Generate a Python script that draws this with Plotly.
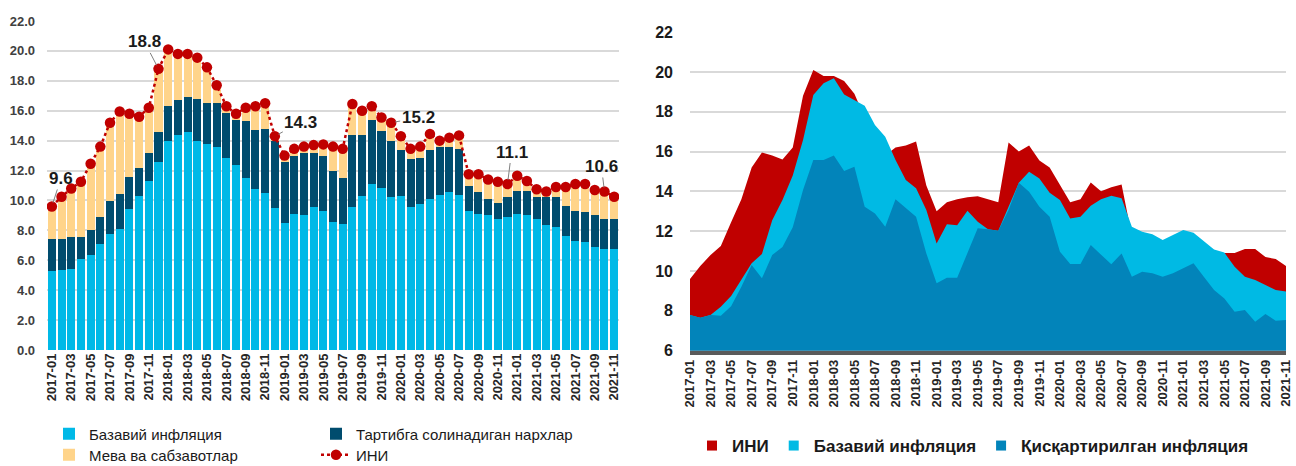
import plotly.graph_objects as go

months = [f"{y}-{m:02d}" for y in range(2017, 2022) for m in range(1, 13)][:59]
tick_months = months[::2]

# Left chart: contributions to CPI (pp)
cpi = [9.6, 10.25, 10.8, 11.25, 12.45, 13.6, 15.2, 15.95, 15.8, 15.6, 16.2, 18.8,
       20.1, 19.8, 19.8, 19.55, 18.9, 17.7, 16.3, 15.8, 16.2, 16.3, 16.5, 14.3,
       13.0, 13.45, 13.6, 13.7, 13.75, 13.6, 13.45, 16.45, 16.0, 16.3, 15.55, 15.2,
       14.3, 13.45, 13.6, 14.45, 14.0, 14.2, 14.35, 11.75, 11.75, 11.4, 11.25, 11.1,
       11.65, 11.3, 10.75, 10.6, 10.9, 10.9, 11.1, 11.1, 10.7, 10.6, 10.25]
base_contrib = [5.3, 5.35, 5.45, 6.1, 6.35, 7.1, 7.75, 8.1, 9.4, 10.3, 11.3, 12.6,
                14.0, 14.4, 14.6, 14.0, 13.75, 13.6, 12.85, 12.4, 11.5, 10.75, 10.5, 9.5,
                8.5, 9.1, 9.0, 9.55, 9.3, 8.55, 8.45, 9.55, 10.3, 11.1, 10.85, 10.2,
                10.3, 9.55, 9.75, 10.1, 10.35, 10.55, 10.35, 9.3, 9.1, 9.0, 8.75, 8.9,
                9.1, 9.0, 8.75, 8.35, 8.2, 7.65, 7.3, 7.2, 6.9, 6.75, 6.75]
regulated_contrib = [2.15, 2.1, 2.1, 1.45, 1.7, 1.8, 2.2, 2.3, 2.15, 1.9, 1.9, 1.95,
                     2.3, 2.35, 2.35, 2.8, 2.8, 2.9, 3.0, 3.0, 3.8, 3.95, 4.25, 4.45,
                     4.1, 3.9, 4.2, 3.65, 3.65, 3.45, 3.05, 4.85, 4.1, 4.3, 3.8, 3.8,
                     3.1, 3.2, 3.1, 3.3, 3.25, 3.05, 3.1, 1.65, 1.45, 1.1, 1.1, 1.3,
                     1.55, 1.65, 1.45, 1.85, 2.0, 2.0, 2.0, 2.0, 2.1, 2.0, 2.0]
fruitveg_contrib = [2.15, 2.8, 3.25, 3.7, 4.4, 4.7, 5.25, 5.55, 4.25, 3.4, 3.0, 4.25,
                    3.8, 3.05, 2.85, 2.75, 2.35, 1.2, 0.45, 0.4, 0.9, 1.6, 1.75, 0.35,
                    0.4, 0.45, 0.4, 0.5, 0.8, 1.6, 1.95, 2.05, 1.6, 0.9, 0.9, 1.2,
                    0.9, 0.7, 0.75, 1.05, 0.4, 0.6, 0.9, 0.8, 1.2, 1.3, 1.4, 0.9,
                    1.0, 0.65, 0.55, 0.4, 0.7, 1.25, 1.8, 1.9, 1.7, 1.85, 1.5]

# Right chart: inflation measures (%)
core_infl = [7.78, 7.65, 7.78, 8.2, 8.74, 9.58, 10.38, 10.85, 12.55, 13.56, 14.8, 16.58,
             18.84, 19.43, 19.68, 18.87, 18.59, 18.3, 17.33, 16.74, 15.57, 14.57, 14.15, 13.06,
             11.38, 12.34, 12.29, 13.03, 12.47, 12.1, 12.02, 13.2, 14.43, 14.99, 14.65, 13.93,
             13.56, 12.64, 12.72, 13.28, 13.6, 13.78, 13.65, 12.22, 11.97, 11.84, 11.55, 11.8,
             12.06, 11.92, 11.52, 11.08, 10.92, 10.21, 9.71, 9.54, 9.29, 9.04, 8.96]
trimmed_infl = [7.78, 7.65, 7.78, 7.75, 8.23, 9.2, 10.3, 9.63, 10.8, 11.2, 12.2, 14.07,
                15.57, 15.57, 15.8, 15.02, 15.24, 13.23, 12.89, 12.22, 13.6, 13.14, 12.72, 10.88,
                9.38, 9.66, 9.66, 10.9, 12.14, 12.1, 12.02, 13.06, 14.43, 13.98, 13.23, 12.72,
                10.97, 10.35, 10.35, 11.3, 10.8, 10.33, 10.88, 9.71, 9.96, 9.88, 9.71, 9.88,
                10.13, 10.38, 9.71, 9.04, 8.62, 7.95, 8.04, 7.45, 7.83, 7.5, 7.53]

label_points = ["2017-01", "2017-12", "2018-12", "2019-12", "2020-12", "2021-10"]
label_texts = ["9.6", "18.8", "14.3", "15.2", "11.1", "10.6"]
label_offsets = [(9, -28), (-14, -27), (26, -14), (27, -5), (4, -32), (-3, -25)]

C_BASE = "#00B9E7"
C_REG = "#004C6E"
C_FV = "#FFD48A"
C_RED = "#C00000"
C_CORE = "#00BAE4"
C_TRIM = "#0284BA"

fig = go.Figure()

fig.add_trace(go.Bar(x=months, y=base_contrib, name="Базавий инфляция",
                     marker=dict(color=C_BASE, line=dict(width=0)),
                     xaxis="x", yaxis="y", legend="legend"))
fig.add_trace(go.Bar(x=months, y=regulated_contrib, name="Тартибга солинадиган нархлар",
                     marker=dict(color=C_REG, line=dict(width=0)),
                     xaxis="x", yaxis="y", legend="legend"))
fig.add_trace(go.Bar(x=months, y=fruitveg_contrib, name="Мева ва сабзавотлар",
                     marker=dict(color=C_FV, line=dict(width=0)),
                     xaxis="x", yaxis="y", legend="legend2"))
fig.add_trace(go.Scatter(x=months, y=cpi, name="ИНИ", mode="lines+markers",
                         line=dict(color=C_RED, width=2.5, dash="dot"),
                         marker=dict(color=C_RED, size=10.5),
                         xaxis="x", yaxis="y", legend="legend2"))

fig.add_trace(go.Scatter(x=months, y=cpi, name="ИНИ", mode="lines", fill="tozeroy",
                         line=dict(color=C_RED, width=0), fillcolor=C_RED,
                         xaxis="x2", yaxis="y2", showlegend=False))
fig.add_trace(go.Scatter(x=months, y=core_infl, name="Базавий инфляция", mode="lines",
                         fill="tozeroy", line=dict(color=C_CORE, width=0), fillcolor=C_CORE,
                         xaxis="x2", yaxis="y2", showlegend=False))
fig.add_trace(go.Scatter(x=months, y=trimmed_infl, name="Қисқартирилган инфляция",
                         mode="lines", fill="tozeroy",
                         line=dict(color=C_TRIM, width=0), fillcolor=C_TRIM,
                         xaxis="x2", yaxis="y2", showlegend=False))
# legend keys for the right chart (square swatches, no data drawn)
for nm, col in [("ИНИ", C_RED), ("Базавий инфляция", C_CORE),
                ("Қисқартирилган инфляция", C_TRIM)]:
    fig.add_trace(go.Scatter(x=[None], y=[None], name=nm, mode="markers",
                             marker=dict(symbol="square", size=10, color=col),
                             xaxis="x2", yaxis="y2", legend="legend3"))

annotations = []
for m, t, (ax, ay) in zip(label_points, label_texts, label_offsets):
    yv = cpi[months.index(m)]
    annotations.append(dict(x=m, y=yv, xref="x", yref="y", text=t, showarrow=True,
                            arrowhead=0, arrowwidth=1, arrowcolor="#7f7f7f",
                            ax=ax, ay=ay, standoff=4,
                            font=dict(family="Liberation Sans", size=17, color="#1a1a1a",
                                      weight="bold")))

tickfont_x = dict(family="Liberation Sans", size=13, color="#262626", weight="bold")

fig.update_layout(
    width=1296, height=466,
    margin=dict(l=0, r=0, t=0, b=0, autoexpand=False),
    paper_bgcolor="white", plot_bgcolor="white",
    barmode="stack", bargap=0.17,
    font=dict(family="Liberation Sans", color="#1a1a1a"),
    xaxis=dict(domain=[47 / 1296, 619 / 1296], type="category",
               categoryorder="array", categoryarray=months,
               range=[-0.5, 58.5], tickvals=tick_months, ticktext=tick_months,
               tickangle=-90, tickfont=tickfont_x, showgrid=False,
               showline=False, ticks="", automargin=False),
    yaxis=dict(domain=[1 - 350 / 466, 1 - 21 / 466], range=[0, 22], dtick=2,
               tickformat=".1f", tickfont=dict(family="Liberation Sans", size=13,
                                               color="#404040", weight="bold"),
               showgrid=True, gridcolor="#d9d9d9", gridwidth=1.5, zeroline=False,
               showline=False, ticks="", ticklabelstandoff=11, automargin=False),
    xaxis2=dict(domain=[690 / 1296, 1286 / 1296], type="category",
                categoryorder="array", categoryarray=months,
                range=[0, 58], tickvals=tick_months, ticktext=tick_months,
                tickangle=-90, tickfont=tickfont_x, ticklabeloverflow="allow",
                showgrid=False, showline=True, linecolor="#5a5a5a", linewidth=4,
                ticks="", automargin=False, anchor="y2"),
    yaxis2=dict(domain=[1 - 350.5 / 466, 1 - 32.2 / 466], range=[6, 22], dtick=2,
                tickfont=dict(family="Liberation Sans", size=16, color="#1a1a1a",
                              weight="bold"),
                showgrid=True, gridcolor="#d9d9d9", gridwidth=1.5, zeroline=False,
                showline=False, ticks="", ticklabelstandoff=16, automargin=False,
                anchor="x2"),
    legend=dict(orientation="h", x=49 / 1296, y=1 - 434 / 466, yanchor="middle",
                xanchor="left", entrywidth=222, entrywidthmode="pixels",
                traceorder="normal",
                font=dict(family="Liberation Sans", size=15, color="#1a1a1a"),
                bgcolor="rgba(0,0,0,0)", itemwidth=30, tracegroupgap=0),
    legend2=dict(orientation="h", x=49 / 1296, y=1 - 455 / 466, yanchor="middle",
                 xanchor="left", entrywidth=222, entrywidthmode="pixels",
                 traceorder="normal",
                 font=dict(family="Liberation Sans", size=15, color="#1a1a1a"),
                 bgcolor="rgba(0,0,0,0)", itemwidth=30, tracegroupgap=0),
    legend3=dict(orientation="h", x=692 / 1296, y=1 - 446 / 466, yanchor="middle",
                 xanchor="left", traceorder="normal",
                 font=dict(family="Liberation Sans", size=17, color="#1a1a1a",
                           weight="bold"),
                 bgcolor="rgba(0,0,0,0)", itemwidth=30, tracegroupgap=0),
    annotations=annotations,
    showlegend=True,
)

fig.write_html("out.html", config={"displayModeBar": False},
               post_script="document.body.style.margin='0px';"
                           "document.body.style.padding='0px';")
